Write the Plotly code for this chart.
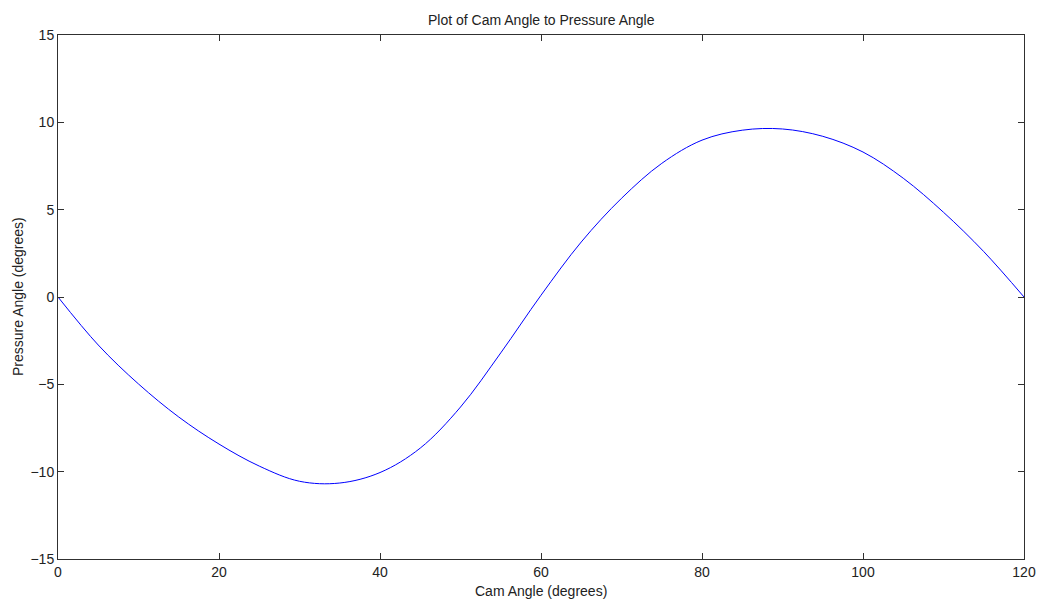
import plotly.graph_objects as go

# Cam angle (degrees) and the resulting pressure angle (degrees)
cam_angle = [0, 5, 10, 15, 20, 25, 30, 35, 40, 45, 50, 55, 60,
             65, 70, 75, 80, 85, 90, 95, 100, 105, 110, 115, 120]
pressure_angle = [0.0, -2.75, -4.98, -6.87, -8.42, -9.68, -10.55, -10.65, -10.05,
                  -8.65, -6.3, -3.2, 0.1, 3.15, 5.65, 7.65, 8.98, 9.55, 9.62,
                  9.2, 8.3, 6.8, 4.85, 2.6, 0.0]

x_ticks = [0, 20, 40, 60, 80, 100, 120]
y_ticks = [-15, -10, -5, 0, 5, 10, 15]

font_family = "Liberation Sans, Arial, sans-serif"
text_color = "#222222"

fig = go.Figure()
fig.add_trace(go.Scatter(
    x=cam_angle, y=pressure_angle, mode="lines",
    line=dict(color="#0000ff", width=1, shape="spline", smoothing=1.0),
    showlegend=False, hoverinfo="x+y",
))

axis_common = dict(
    showgrid=False, zeroline=False, automargin=False,
    showline=True, linecolor="#303030", linewidth=1, mirror="ticks",
    ticks="inside", ticklen=6, tickcolor="#303030", tickwidth=1,
    tickfont=dict(family=font_family, size=14, color=text_color),
)

fig.update_xaxes(range=[0, 120], tickvals=x_ticks, **axis_common)
fig.update_yaxes(range=[-15, 15], tickvals=y_ticks, **axis_common)

label_font = dict(family=font_family, size=14, color=text_color)

fig.update_layout(
    width=1039, height=601,
    margin=dict(l=58, r=15, t=35, b=42),
    paper_bgcolor="white", plot_bgcolor="white",
    font=label_font,
    annotations=[
        dict(text="Plot of Cam Angle to Pressure Angle", xref="paper", yref="paper",
             x=0.5, y=1, xanchor="center", yanchor="middle", yshift=15,
             showarrow=False, font=label_font),
        dict(text="Cam Angle (degrees)", xref="paper", yref="paper",
             x=0.5, y=0, xanchor="center", yanchor="middle", yshift=-32,
             showarrow=False, font=label_font),
        dict(text="Pressure Angle (degrees)", xref="paper", yref="paper",
             x=0, y=0.5, xanchor="center", yanchor="middle", xshift=-40,
             textangle=-90, showarrow=False, font=label_font),
    ],
)

fig.write_html("out.html")
